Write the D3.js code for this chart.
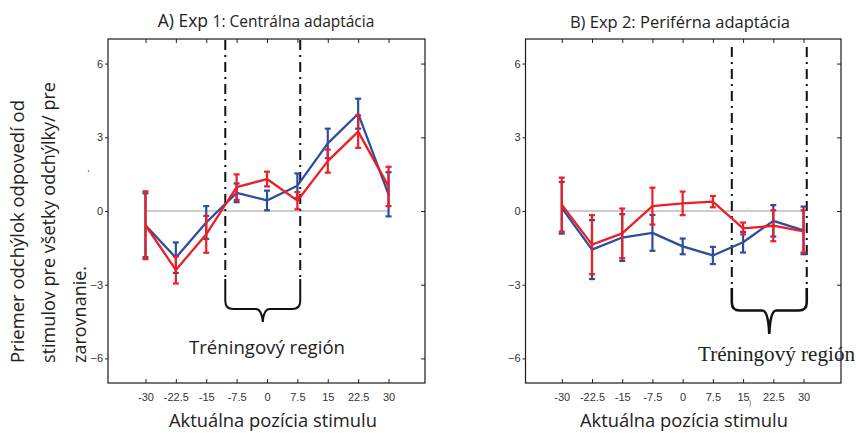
<!DOCTYPE html>
<html>
<head>
<meta charset="utf-8">
<script src="https://cdn.jsdelivr.net/npm/d3@7"></script>
<style>
  html, body { margin: 0; padding: 0; background: #fff; }
  svg { display: block; }
  .tick-label { font-family: "Liberation Sans", Arial, sans-serif; font-size: 11px; fill: #333; }
</style>
</head>
<body>
<svg id="chart" width="856" height="433"></svg>
<script>
// Stimulus positions (deg) and tick values
const positions = [-30, -22.5, -15, -7.5, 0, 7.5, 15, 22.5, 30];
const xTickLabels = ["-30", "-22.5", "-15", "-7.5", "0", "7.5", "15", "22.5", "30"];
const yTicks = [-6, -3, 0, 3, 6];

// Exp 1: central adaptation (mean deviation and error half-width)
const exp1Blue    = [-0.58, -1.90, -0.47, 0.74, 0.43, 1.03, 2.75, 3.96, 0.68];
const exp1BlueErr = [1.30, 0.62, 0.67, 0.38, 0.40, 0.50, 0.60, 0.61, 0.90];
const exp1Red     = [-0.58, -2.40, -0.95, 0.97, 1.30, 0.42, 2.03, 3.23, 1.00];
const exp1RedErr  = [1.38, 0.55, 0.75, 0.52, 0.30, 0.35, 0.47, 0.66, 0.80];

// Exp 2: peripheral adaptation
const exp2Blue    = [0.13, -1.57, -1.08, -0.89, -1.44, -1.81, -1.27, -0.40, -0.79];
const exp2BlueErr = [1.05, 1.20, 0.95, 0.73, 0.32, 0.35, 0.42, 0.64, 0.97];
const exp2Red     = [0.26, -1.37, -0.91, 0.20, 0.31, 0.38, -0.71, -0.60, -0.83];
const exp2RedErr  = [1.10, 1.20, 1.01, 0.75, 0.48, 0.23, 0.24, 0.63, 0.86];

// Training region bounds (deg) for each experiment
const exp1Training = [-10.3, 8.2];
const exp2Training = [12.2, 30.8];

const BLUE = "#2d4d9e";
const RED = "#ec1f27";

const svg = d3.select("#chart");

function drawPanel(cfg) {
  const x = d3.scaleLinear().domain(cfg.xDomain).range([cfg.left, cfg.right]);
  const y = d3.scaleLinear().domain([-7, 7]).range([383, 39]);
  const g = svg.append("g");

  // zero reference line
  g.append("line")
    .attr("x1", x(-30)).attr("x2", x(30))
    .attr("y1", y(0)).attr("y2", y(0))
    .attr("stroke", "#9a9a9a").attr("stroke-width", 1.2);

  // training region: dash-dot boundaries and brace
  const [t0, t1] = cfg.training;
  [t0, t1].forEach(t => {
    g.append("line")
      .attr("x1", x(t)).attr("x2", x(t))
      .attr("y1", cfg.dashTop).attr("y2", cfg.braceTop)
      .attr("stroke", "#111").attr("stroke-width", 2)
      .attr("stroke-dasharray", "10,5,2,5");
  });
  const xa = x(t0), xb = x(t1), xm = (xa + xb) / 2;
  const hy = cfg.braceY, tip = cfg.braceTip, r = 8;
  const brace = `M${xa},${cfg.braceTop} L${xa},${hy - r} Q${xa},${hy} ${xa + r},${hy}` +
    ` L${xm - 7},${hy} Q${xm - 1},${hy} ${xm},${tip} Q${xm + 1},${hy} ${xm + 7},${hy}` +
    ` L${xb - r},${hy} Q${xb},${hy} ${xb},${hy - r} L${xb},${cfg.braceTop}`;
  g.append("path").attr("d", brace)
    .attr("fill", "none").attr("stroke", "#111").attr("stroke-width", cfg.braceWidth);

  // series: lines with error bars
  function series(vals, errs, color) {
    const pts = positions.map((p, i) => ({ p, v: vals[i], e: errs[i] }));
    g.append("path")
      .datum(pts)
      .attr("fill", "none").attr("stroke", color).attr("stroke-width", 2.3)
      .attr("stroke-linejoin", "round")
      .attr("d", d3.line().x(d => x(d.p)).y(d => y(d.v)));
    const eb = g.append("g").attr("stroke", color).attr("stroke-width", 2.2);
    pts.forEach(d => {
      eb.append("line").attr("x1", x(d.p)).attr("x2", x(d.p))
        .attr("y1", y(d.v - d.e)).attr("y2", y(d.v + d.e));
      [d.v - d.e, d.v + d.e].forEach(v => {
        eb.append("line").attr("x1", x(d.p) - 3).attr("x2", x(d.p) + 3)
          .attr("y1", y(v)).attr("y2", y(v));
      });
    });
  }
  series(cfg.blue, cfg.blueErr, BLUE);
  series(cfg.red, cfg.redErr, RED);

  // frame
  g.append("rect")
    .attr("x", cfg.left).attr("y", 39)
    .attr("width", cfg.right - cfg.left).attr("height", 383 - 39)
    .attr("fill", "none").attr("stroke", "#1a1a1a").attr("stroke-width", 1.2);

  // axes
  const bottom = d3.axisBottom(x).tickValues(positions).tickFormat((d, i) => xTickLabels[i])
    .tickSizeInner(-4).tickSizeOuter(0).tickPadding(10);
  const ax = g.append("g").attr("transform", `translate(0,383)`).call(bottom);
  ax.select(".domain").remove();
  ax.selectAll("text").attr("class", "tick-label").attr("font-size", null).attr("font-family", null).attr("fill", null);
  ax.selectAll("line").attr("stroke", "#222");

  const top = d3.axisTop(x).tickValues(positions).tickFormat("").tickSizeInner(-4).tickSizeOuter(0);
  const at = g.append("g").attr("transform", `translate(0,39)`).call(top);
  at.select(".domain").remove();
  at.selectAll("line").attr("stroke", "#222");

  const left = d3.axisLeft(y).tickValues(yTicks).tickFormat(d3.format("d"))
    .tickSizeInner(3).tickSizeOuter(0).tickPadding(2);
  const al = g.append("g").attr("transform", `translate(${cfg.left},0)`).call(left);
  al.select(".domain").remove();
  al.selectAll("text").attr("class", "tick-label").attr("font-size", null).attr("font-family", null).attr("fill", null);
  al.selectAll("line").attr("stroke", "#222");

  const right = d3.axisRight(y).tickValues(yTicks).tickFormat("").tickSizeInner(-4).tickSizeOuter(0);
  const ar = g.append("g").attr("transform", `translate(${cfg.right},0)`).call(right);
  ar.select(".domain").remove();
  ar.selectAll("line").attr("stroke", "#222");

  return { x, y, g };
}

drawPanel({
  left: 108, right: 425, xDomain: [-39.25, 39],
  blue: exp1Blue, blueErr: exp1BlueErr, red: exp1Red, redErr: exp1RedErr,
  training: exp1Training, dashTop: 40, braceTop: 279, braceY: 309, braceTip: 322, braceWidth: 2
});
drawPanel({
  left: 525.5, right: 841, xDomain: [-39, 39.3],
  blue: exp2Blue, blueErr: exp2BlueErr, red: exp2Red, redErr: exp2RedErr,
  training: exp2Training, dashTop: 47, braceTop: 288, braceY: 310.5, braceTip: 334, braceWidth: 2.6
});

const sans = "'Open Sans', 'Noto Sans', sans-serif";

// panel titles
const tA = svg.append("text").attr("x", 266).attr("y", 27).attr("text-anchor", "middle")
  .attr("font-family", sans).attr("fill", "#222");
tA.append("tspan").attr("font-size", 17.5).text("A) Exp ");
tA.append("tspan").attr("font-size", 15.5).text("1: Centrálna adaptácia");

svg.append("text").attr("x", 680).attr("y", 28).attr("text-anchor", "middle")
  .attr("font-family", sans).attr("font-size", 16.5).attr("fill", "#222")
  .text("B) Exp 2: Periférna adaptácia");

// x axis titles
[[273, 427], [684, 427]].forEach(([cx, by]) => {
  svg.append("text").attr("x", cx).attr("y", by).attr("text-anchor", "middle")
    .attr("font-family", sans).attr("font-size", 18.5).attr("fill", "#222")
    .attr("textLength", 208).attr("lengthAdjust", "spacingAndGlyphs")
    .text("Aktuálna pozícia stimulu");
});

// training region labels
svg.append("text").attr("x", 267).attr("y", 354).attr("text-anchor", "middle")
  .attr("font-family", sans).attr("font-size", 17.5).attr("fill", "#222")
  .attr("textLength", 156).attr("lengthAdjust", "spacingAndGlyphs")
  .text("Tréningový región");
svg.append("text").attr("x", 776.5).attr("y", 361).attr("text-anchor", "middle")
  .attr("font-family", "'Liberation Serif', 'Times New Roman', serif").attr("font-size", 21).attr("fill", "#222")
  .attr("textLength", 157).attr("lengthAdjust", "spacingAndGlyphs")
  .text("Tréningový región");

// y axis title (three lines, rotated)
const yTitle = ["Priemer odchýlok odpovedí od", "stimulov pre všetky odchýlky/ pre", "zarovnanie."];
const yTitleLen = [263, 281, null];
yTitle.forEach((line, i) => {
  const bx = 23.5 + i * 31;
  const t = svg.append("text")
    .attr("transform", `translate(${bx},363) rotate(-90)`)
    .attr("font-family", sans).attr("font-size", 18).attr("fill", "#222")
    .text(line);
  if (yTitleLen[i]) t.attr("textLength", yTitleLen[i]).attr("lengthAdjust", "spacingAndGlyphs");
});

// small stray marks
svg.append("text").attr("transform", "translate(91,171) rotate(-90)")
  .attr("font-family", sans).attr("font-size", 9).attr("fill", "#444").attr("text-anchor", "middle").text("-");
svg.append("text").attr("x", 750).attr("y", 405).attr("text-anchor", "middle")
  .attr("font-family", sans).attr("font-size", 7).attr("fill", "#444").text(")");
</script>
</body>
</html>
